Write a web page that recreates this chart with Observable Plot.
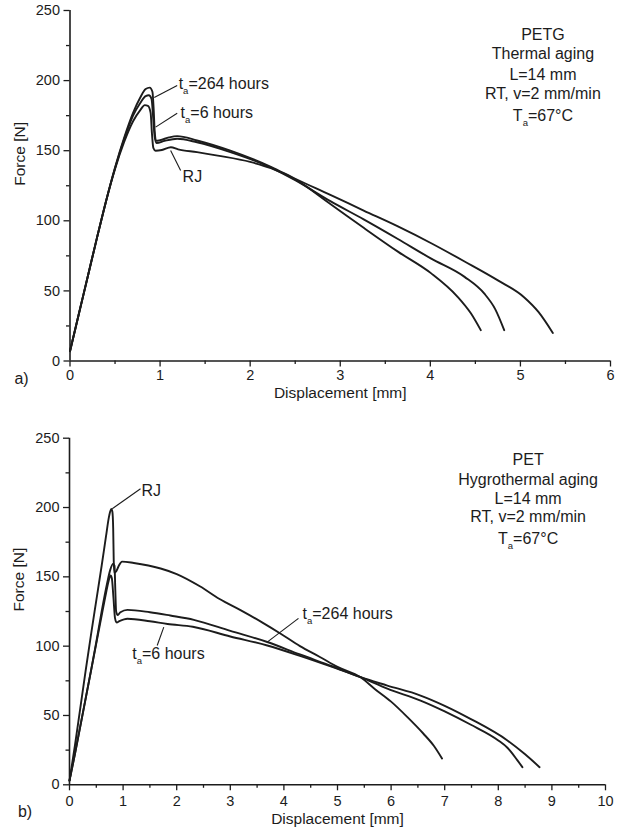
<!DOCTYPE html>
<html><head><meta charset="utf-8">
<script src="https://cdn.jsdelivr.net/npm/d3@7"></script>
<script src="https://cdn.jsdelivr.net/npm/@observablehq/plot@0.6"></script>
<style>
html,body{margin:0;padding:0;background:#fff;}
#chart{width:627px;}
#chart svg{display:block;}
</style>
</head><body><div id="chart"></div>
<script>
// ---------- DATA: panel a) PETG, thermal aging ----------
const petgXTicks = [0, 1, 2, 3, 4, 5, 6];
const petgXMinor = [0.5, 1.5, 2.5, 3.5, 4.5, 5.5];
const forceTicks = [0, 50, 100, 150, 200, 250];
const forceMinor = [25, 75, 125, 175, 225];

const petgRJ = [[0,7],[0.1,34],[0.2,61],[0.3,88],[0.4,114],[0.5,137],[0.6,156],[0.7,171],[0.78,179],[0.83,182.5],[0.865,182],[0.895,177],[0.91,162],[0.925,152],[0.95,150],[1.02,150.5],[1.12,152.5],[1.2,151],[1.41,149],[1.64,146.5],[2.0,142],[2.23,137.5],[2.5,129.5],[2.89,112],[3.26,95],[3.64,78],[4.01,62.5],[4.3,46],[4.45,34],[4.56,22]];
const petg6h = [[0,7],[0.1,34],[0.2,61],[0.3,88],[0.4,114],[0.5,137.5],[0.6,158],[0.7,175],[0.78,184],[0.84,189],[0.875,189.5],[0.905,187],[0.925,172],[0.94,160],[0.96,155.5],[1.05,157],[1.19,158.5],[1.41,156],[1.78,149],[2.23,138],[2.5,129],[2.89,114],[3.26,101],[3.64,87],[4.01,73],[4.38,60],[4.6,48],[4.72,37],[4.82,22]];
const petg264h = [[0,7],[0.1,34],[0.2,61],[0.3,88],[0.4,114],[0.5,138],[0.6,159],[0.7,177],[0.78,188],[0.84,194],[0.885,195],[0.915,192],[0.93,178],[0.94,164],[0.955,157],[1.0,157.5],[1.1,159.5],[1.19,160.4],[1.41,157.3],[1.78,150],[2.23,138.5],[2.5,130],[2.89,118.5],[3.26,107.3],[3.64,96],[4.01,84],[4.38,71],[4.75,57.5],[5.04,45.5],[5.2,35],[5.36,20]];

const petgNotes = ["PETG", "Thermal aging", "L=14 mm", "RT, v=2 mm/min", "T_a=67°C"];
const petgNoteX = [5.25, 5.25, 5.25, 5.25, 5.25];
const petgNoteY = [232.9, 219.1, 204.4, 190.3, 174.5];

const petgLabels = ["t_a=264 hours", "t_a=6 hours", "RJ"];
const petgLabelX = [1.206, 1.228, 1.25];
const petgLabelY = [198, 177.2, 131.1];
const petgLeadX1 = [0.935, 0.95, 1.117];
const petgLeadY1 = [188, 166.8, 150.1];
const petgLeadX2 = [1.19, 1.19, 1.228];
const petgLeadY2 = [196.5, 176.7, 135.9];

// ---------- DATA: panel b) PET, hygrothermal aging ----------
const petXTicks = [0,1,2,3,4,5,6,7,8,9,10];
const petXMinor = [0.5,1.5,2.5,3.5,4.5,5.5,6.5,7.5,8.5,9.5];

const petRJ = [[0,3],[0.1,28],[0.2,55],[0.3,82],[0.4,108],[0.5,133],[0.6,158],[0.68,179],[0.74,194],[0.78,199],[0.8,197],[0.815,185],[0.825,162],[0.835,153],[0.87,154],[0.92,158],[0.98,161],[1.2,160],[1.7,156],[2.0,152],[2.44,143],[2.8,134],[3.19,126],[3.6,117],[3.94,109],[4.3,100],[4.68,92],[5.0,85],[5.43,77.6],[5.7,69],[6.0,60],[6.3,49],[6.6,37],[6.8,28],[6.95,19]];
const pet6h = [[0,3],[0.1,22],[0.2,42],[0.3,62],[0.4,82],[0.5,102],[0.6,122],[0.68,138],[0.73,147],[0.765,151],[0.79,149],[0.82,135],[0.85,120],[0.88,117],[0.93,118],[1.08,119.8],[1.5,118],[1.83,116],[2.3,114],[3.0,107],[3.69,100.5],[4.3,93],[4.9,85],[5.43,77.6],[5.93,69.3],[6.55,60.8],[7.0,53],[7.48,43.5],[8.0,32],[8.17,26.7],[8.35,18],[8.45,12.7]];
const pet264h = [[0,3],[0.1,22],[0.2,42],[0.3,62],[0.4,82],[0.5,103],[0.6,125],[0.7,145],[0.76,155],[0.815,159.5],[0.84,158],[0.855,140],[0.87,125],[0.9,122.5],[0.95,124.5],[1.08,126.2],[1.5,124.5],[1.88,122.1],[2.32,119],[3.0,111],[3.69,103],[4.3,94],[4.9,85.5],[5.43,77.6],[5.93,71.6],[6.55,64.4],[7.0,57],[7.48,47.6],[8.17,32],[8.5,22],[8.77,12.7]];

const petNotes = ["PET", "Hygrothermal aging", "L=14 mm", "RT, v=2 mm/min", "T_a=67°C"];
const petNoteX = [8.556, 8.556, 8.556, 8.556, 8.556];
const petNoteY = [234.4, 220.2, 206.3, 193, 177.4];

const petLabels = ["RJ", "t_a=264 hours", "t_a=6 hours"];
const petLabelX = [1.343, 4.347, 1.17];
const petLabelY = [212.3, 123.6, 94.5];
const petLeadX1 = [0.797, 3.688, 1.759];
const petLeadY1 = [199.1, 102.9, 113.7];
const petLeadX2 = [1.325, 4.272, 1.636];
const petLeadY2 = [213.5, 120, 100.5];

const xTitle = "Displacement [mm]";
const yTitle = "Force [N]";

// ---------- DRAWING ----------
const FONT = "'Liberation Sans', Arial, Helvetica, sans-serif";
const INK = "#1c1c1c";

function subscriptify(svg) {
  const ns = "http://www.w3.org/2000/svg";
  svg.querySelectorAll("text").forEach(t => {
    if (t.querySelector("tspan")) return;
    const s = t.textContent;
    const i = s.indexOf("_");
    if (i < 0) return;
    const parts = [s.slice(0, i), s[i + 1], s.slice(i + 2)];
    t.textContent = "";
    const a = document.createElementNS(ns, "tspan"); a.textContent = parts[0];
    const b = document.createElementNS(ns, "tspan"); b.textContent = parts[1];
    b.setAttribute("font-size", "9.5"); b.setAttribute("dy", "5");
    const c = document.createElementNS(ns, "tspan"); c.textContent = parts[2];
    c.setAttribute("dy", "-5");
    t.append(a, b, c);
  });
}

function panel(o) {
  const lines = o.series.map(s => Plot.line(s, {x: d => d[0], y: d => d[1], curve: "monotone-x", stroke: INK, strokeWidth: 1.9}));
  const svg = Plot.plot({
    width: 627, height: o.height,
    marginLeft: o.ml, marginRight: o.mr, marginTop: o.mt, marginBottom: o.mb,
    x: {domain: o.xDomain}, y: {domain: [0, 250]},
    style: {fontFamily: FONT, fontSize: "14px", color: INK, background: "white", overflow: "visible"},
    marks: [
      Plot.axisX({ticks: o.xTicks, tickFormat: d3.format("d"), tickSize: 6, tickPadding: o.xPad, label: null, strokeWidth: 1.3, fontSize: 14.5}),
      Plot.axisX({ticks: o.xMinor, tickSize: 3.5, text: null, label: null, strokeWidth: 1.3}),
      Plot.axisY({ticks: forceTicks, tickFormat: d3.format("d"), tickSize: 6, tickPadding: 4, label: null, strokeWidth: 1.3, fontSize: 14.5}),
      Plot.axisY({ticks: forceMinor, tickSize: 3.5, text: null, label: null, strokeWidth: 1.3}),
      Plot.ruleX([0], {stroke: INK, strokeWidth: 1.6}),
      Plot.ruleY([0], {stroke: INK, strokeWidth: 1.6}),
      ...lines,
      Plot.link(o.leadX1, {x1: (d, i) => o.leadX1[i], y1: (d, i) => o.leadY1[i], x2: (d, i) => o.leadX2[i], y2: (d, i) => o.leadY2[i], stroke: INK, strokeWidth: 1.1}),
      Plot.text(o.labels, {x: (d, i) => o.labelX[i], y: (d, i) => o.labelY[i], text: d => d, textAnchor: "start", lineAnchor: "middle", fontSize: 16, fill: INK}),
      Plot.text(o.notes, {x: (d, i) => o.noteX[i], y: (d, i) => o.noteY[i], text: d => d, textAnchor: "middle", lineAnchor: "middle", fontSize: 16, fill: INK}),
      Plot.text([xTitle], {frameAnchor: "bottom", dy: o.xTitleDy, text: d => d, lineAnchor: "middle", fontSize: 15.5, fill: INK}),
      Plot.text([yTitle], {frameAnchor: "left", dx: -50, rotate: -90, text: d => d, lineAnchor: "middle", fontSize: 15.5, fill: INK}),
      Plot.text([o.tag], {frameAnchor: "bottom-left", dx: o.tagDx, dy: o.tagDy, text: d => d, textAnchor: "middle", lineAnchor: "middle", fontSize: 16, fill: INK})
    ]
  });
  subscriptify(svg);
  return svg;
}

const chart = document.getElementById("chart");
chart.append(panel({
  height: 400, ml: 69.5, mr: 17, mt: 10, mb: 39.5, xDomain: [0, 6],
  xTicks: petgXTicks, xMinor: petgXMinor, xPad: 3,
  series: [petgRJ, petg6h, petg264h],
  notes: petgNotes, noteX: petgNoteX, noteY: petgNoteY,
  labels: petgLabels, labelX: petgLabelX, labelY: petgLabelY,
  leadX1: petgLeadX1, leadY1: petgLeadY1, leadX2: petgLeadX2, leadY2: petgLeadY2,
  xTitleDy: 32.5, tag: "a)", tagDx: -48.5, tagDy: 17.5
}));
chart.append(panel({
  height: 434, ml: 69, mr: 22, mt: 37.7, mb: 49.7, xDomain: [0, 10],
  xTicks: petXTicks, xMinor: petXMinor, xPad: 5,
  series: [petRJ, pet6h, pet264h],
  notes: petNotes, noteX: petNoteX, noteY: petNoteY,
  labels: petLabels, labelX: petLabelX, labelY: petLabelY,
  leadX1: petLeadX1, leadY1: petLeadY1, leadX2: petLeadX2, leadY2: petLeadY2,
  xTitleDy: 34, tag: "b)", tagDx: -44.5, tagDy: 26.7
}));
</script>
</body></html>
